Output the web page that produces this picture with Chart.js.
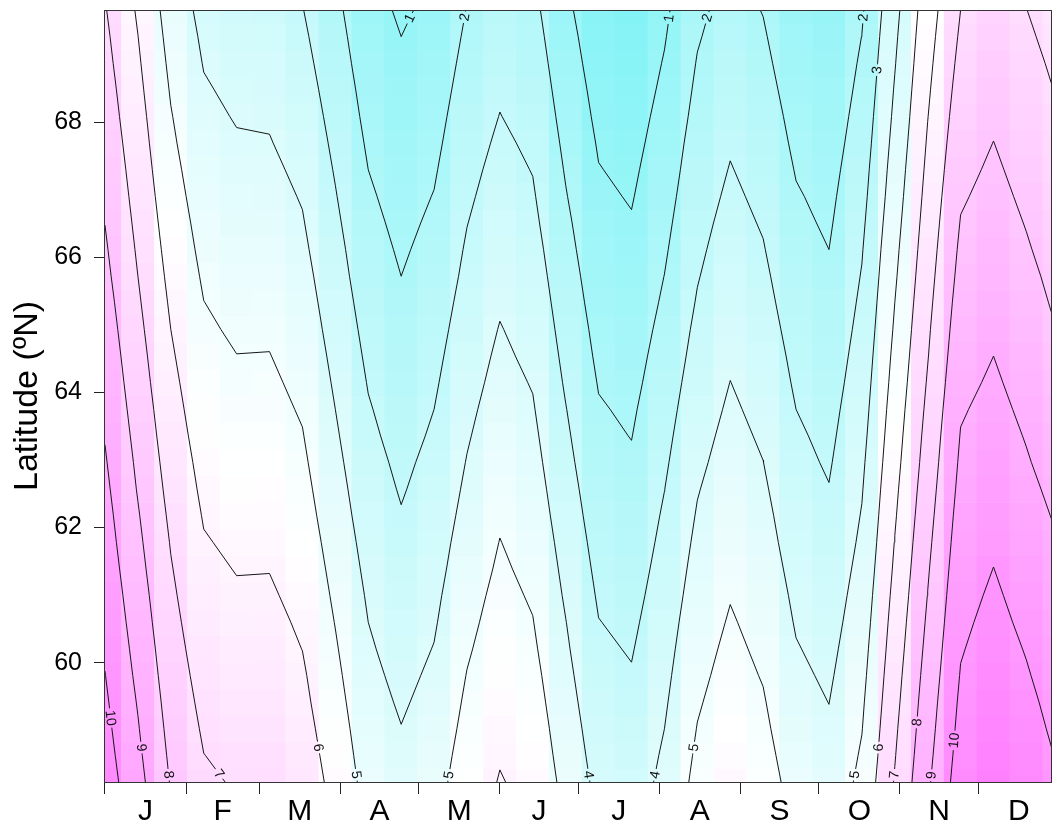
<!DOCTYPE html>
<html>
<head>
<meta charset="utf-8">
<script src="https://cdn.jsdelivr.net/npm/chart.js@4.4.1/dist/chart.umd.min.js"></script>
<style>
  html, body { margin: 0; padding: 0; background: #ffffff; }
  #wrap { width: 1052px; height: 827px; }
</style>
</head>
<body>
<div id="wrap"><canvas id="chart" width="1052" height="827"></canvas></div>
<script>
// ---- grid coordinates ----
// day of year of each grid column
const dayOfYear = [1, 13.59, 26.17, 38.76, 51.34, 63.93, 76.52, 89.10, 101.69, 114.28,
  126.86, 139.45, 152.03, 164.62, 177.21, 189.79, 202.38, 214.97, 227.55, 240.14,
  252.72, 265.31, 277.90, 290.48, 303.07, 315.66, 328.24, 340.83, 353.41, 366.0];

// latitude (°N) of each grid row, south to north
const latitude = [58.233, 58.627, 59.021, 59.415, 59.809, 60.203, 60.597, 60.991, 61.385, 61.779,
  62.173, 62.567, 62.961, 63.355, 63.749, 64.143, 64.537, 64.931, 65.325, 65.719,
  66.113, 66.507, 66.901, 67.295, 67.689, 68.083, 68.477, 68.871, 69.265, 69.659];

// field values: one list per day column, each running south to north
const gridValues = [
  [10.49,10.37,10.25,10.14,10.02,9.90,9.79,9.67,9.55,9.43,9.32,9.20,9.08,8.96,8.84,8.72,8.60,8.48,8.36,8.23,8.11,7.99,7.87,7.76,7.64,7.52,7.41,7.29,7.18,7.06],
  [9.31,9.18,9.06,8.94,8.81,8.69,8.56,8.44,8.31,8.19,8.07,7.94,7.83,7.71,7.59,7.47,7.36,7.24,7.12,7.00,6.89,6.78,6.67,6.56,6.45,6.34,6.23,6.12,6.01,5.89],
  [7.94,7.83,7.72,7.61,7.50,7.39,7.28,7.17,7.06,6.95,6.83,6.71,6.59,6.47,6.36,6.24,6.12,6.00,5.88,5.76,5.64,5.52,5.40,5.28,5.16,5.05,4.93,4.81,4.69,4.57],
  [7.13,7.01,6.89,6.77,6.65,6.53,6.41,6.29,6.18,6.06,5.94,5.82,5.71,5.59,5.47,5.36,5.24,5.12,5.01,4.89,4.77,4.66,4.54,4.43,4.31,4.19,4.08,3.96,3.85,3.73],
  [6.93,6.81,6.69,6.57,6.45,6.33,6.21,6.09,5.97,5.85,5.73,5.61,5.49,5.37,5.25,5.13,5.01,4.89,4.77,4.66,4.54,4.42,4.30,4.18,4.07,3.95,3.83,3.71,3.59,3.47],
  [6.94,6.82,6.70,6.58,6.46,6.34,6.22,6.10,5.98,5.86,5.74,5.62,5.50,5.38,5.26,5.14,5.02,4.90,4.78,4.65,4.53,4.41,4.29,4.17,4.04,3.92,3.80,3.68,3.56,3.43],
  [6.59,6.47,6.35,6.23,6.12,5.99,5.88,5.76,5.64,5.52,5.40,5.28,5.16,5.04,4.92,4.80,4.68,4.55,4.43,4.31,4.18,4.06,3.94,3.81,3.68,3.55,3.42,3.29,3.16,3.03],
  [5.70,5.58,5.46,5.33,5.21,5.09,4.97,4.85,4.73,4.61,4.48,4.36,4.24,4.12,4.00,3.88,3.76,3.64,3.52,3.40,3.29,3.17,3.05,2.93,2.81,2.69,2.57,2.45,2.34,2.22],
  [4.65,4.54,4.43,4.33,4.22,4.11,4.00,3.89,3.77,3.65,3.53,3.42,3.30,3.18,3.07,2.95,2.83,2.71,2.59,2.47,2.36,2.24,2.12,2.00,1.88,1.76,1.65,1.53,1.41,1.29],
  [4.26,4.14,4.02,3.90,3.78,3.65,3.53,3.41,3.29,3.17,3.05,2.93,2.82,2.70,2.58,2.47,2.35,2.23,2.12,2.00,1.89,1.78,1.67,1.56,1.44,1.33,1.22,1.11,1.00,0.89],
  [4.63,4.51,4.39,4.27,4.15,4.03,3.91,3.80,3.68,3.57,3.46,3.34,3.23,3.11,3.00,2.88,2.76,2.64,2.52,2.39,2.27,2.15,2.03,1.91,1.79,1.67,1.55,1.43,1.31,1.18],
  [5.52,5.40,5.27,5.15,5.03,4.90,4.78,4.66,4.53,4.41,4.28,4.16,4.04,3.92,3.80,3.68,3.57,3.45,3.33,3.21,3.10,2.98,2.86,2.74,2.62,2.51,2.39,2.27,2.15,2.03],
  [6.05,5.94,5.82,5.71,5.59,5.48,5.36,5.25,5.13,5.02,4.90,4.78,4.65,4.53,4.41,4.28,4.16,4.04,3.91,3.78,3.66,3.53,3.40,3.28,3.15,3.02,2.90,2.77,2.64,2.52],
  [5.76,5.64,5.52,5.40,5.28,5.15,5.03,4.91,4.79,4.67,4.55,4.43,4.31,4.19,4.07,3.95,3.82,3.70,3.58,3.46,3.34,3.21,3.09,2.97,2.85,2.72,2.60,2.48,2.36,2.24],
  [4.72,4.60,4.49,4.37,4.25,4.13,4.02,3.89,3.77,3.65,3.52,3.40,3.27,3.15,3.03,2.90,2.78,2.66,2.54,2.42,2.30,2.18,2.05,1.93,1.81,1.69,1.57,1.45,1.33,1.20],
  [3.74,3.62,3.50,3.38,3.26,3.14,3.02,2.90,2.78,2.66,2.54,2.42,2.30,2.18,2.07,1.95,1.83,1.72,1.60,1.49,1.37,1.26,1.15,1.03,0.92,0.80,0.69,0.57,0.46,0.34],
  [3.53,3.42,3.30,3.18,3.06,2.94,2.82,2.70,2.58,2.46,2.34,2.22,2.10,1.98,1.87,1.75,1.64,1.52,1.41,1.29,1.17,1.06,0.94,0.83,0.71,0.60,0.48,0.37,0.25,0.13],
  [4.23,4.12,4.00,3.89,3.78,3.67,3.56,3.44,3.33,3.22,3.11,2.99,2.87,2.75,2.63,2.50,2.38,2.26,2.13,2.01,1.89,1.77,1.65,1.53,1.42,1.30,1.18,1.06,0.94,0.83],
  [5.27,5.15,5.03,4.91,4.79,4.67,4.55,4.43,4.31,4.19,4.07,3.95,3.82,3.70,3.57,3.45,3.32,3.20,3.07,2.95,2.84,2.73,2.61,2.50,2.39,2.27,2.16,2.05,1.93,1.82],
  [5.79,5.67,5.55,5.43,5.31,5.20,5.08,4.96,4.84,4.72,4.60,4.49,4.37,4.25,4.13,4.01,3.89,3.77,3.65,3.53,3.40,3.28,3.16,3.04,2.92,2.79,2.67,2.55,2.43,2.31],
  [5.42,5.30,5.18,5.07,4.95,4.83,4.72,4.60,4.48,4.36,4.25,4.13,4.01,3.89,3.77,3.65,3.53,3.41,3.29,3.17,3.05,2.93,2.81,2.69,2.57,2.45,2.33,2.21,2.09,1.97],
  [4.65,4.53,4.41,4.29,4.17,4.05,3.93,3.82,3.70,3.58,3.47,3.35,3.23,3.12,3.00,2.88,2.77,2.65,2.53,2.42,2.30,2.18,2.07,1.95,1.83,1.72,1.60,1.48,1.37,1.25],
  [4.35,4.23,4.11,3.99,3.87,3.75,3.63,3.51,3.39,3.27,3.15,3.03,2.91,2.80,2.69,2.57,2.46,2.34,2.23,2.11,2.00,1.89,1.79,1.68,1.57,1.46,1.36,1.25,1.14,1.03],
  [5.23,5.10,4.97,4.86,4.74,4.63,4.51,4.40,4.28,4.16,4.05,3.94,3.83,3.71,3.60,3.49,3.38,3.27,3.16,3.05,2.94,2.82,2.70,2.59,2.47,2.36,2.24,2.13,2.01,1.89],
  [7.07,6.95,6.84,6.72,6.61,6.49,6.38,6.26,6.14,6.03,5.91,5.80,5.68,5.57,5.46,5.34,5.23,5.11,5.00,4.88,4.77,4.65,4.53,4.42,4.30,4.18,4.07,3.95,3.84,3.72],
  [8.85,8.73,8.61,8.50,8.38,8.26,8.14,8.02,7.91,7.79,7.67,7.55,7.43,7.32,7.20,7.08,6.96,6.86,6.75,6.64,6.53,6.42,6.31,6.20,6.09,5.98,5.87,5.76,5.65,5.54],
  [10.51,10.39,10.28,10.17,10.05,9.94,9.83,9.72,9.60,9.49,9.38,9.26,9.15,9.04,8.92,8.79,8.67,8.54,8.42,8.29,8.17,8.04,7.91,7.78,7.65,7.52,7.39,7.26,7.13,7.00],
  [10.97,10.85,10.73,10.61,10.49,10.37,10.25,10.13,10.01,9.88,9.75,9.63,9.50,9.37,9.25,9.12,9.00,8.87,8.75,8.62,8.50,8.38,8.25,8.13,8.01,7.88,7.76,7.63,7.51,7.39],
  [10.58,10.45,10.32,10.20,10.07,9.95,9.82,9.70,9.57,9.45,9.32,9.20,9.07,8.95,8.82,8.70,8.58,8.45,8.33,8.21,8.08,7.96,7.84,7.72,7.60,7.49,7.37,7.25,7.13,7.01],
  [10.02,9.91,9.79,9.68,9.57,9.46,9.35,9.24,9.12,9.01,8.88,8.75,8.61,8.48,8.35,8.22,8.08,7.96,7.84,7.73,7.61,7.50,7.38,7.27,7.15,7.04,6.92,6.81,6.69,6.58]
];

// contour levels drawn over the field
const contourLevels = [1, 2, 3, 4, 5, 6, 7, 8, 9, 10];

// axis ticks
const monthLetters = ['J', 'F', 'M', 'A', 'M', 'J', 'J', 'A', 'S', 'O', 'N', 'D'];
const monthStartDays = [1, 32, 60, 91, 121, 152, 182, 213, 244, 274, 305, 335, 366];
const latTicks = [60, 62, 64, 66, 68];

// ---- derived tables ----
const FONT = '"Liberation Sans", Arial, Helvetica, sans-serif';
Chart.defaults.font.family = FONT;
Chart.defaults.color = '#000';

const monthBoundaries = monthStartDays.slice(0, 12);
const monthMids = monthLetters.map((_, i) => (monthStartDays[i] + monthStartDays[i + 1]) / 2);

const cellLo = latitude.map((v, j) => j === 0 ? v - (latitude[1] - v) / 2 : (latitude[j - 1] + v) / 2);
const cellHi = latitude.map((v, j) => j === latitude.length - 1 ? v + (v - latitude[j - 1]) / 2 : (v + latitude[j + 1]) / 2);

const heatCells = [];
gridValues.forEach((col, k) => col.forEach((z, j) => {
  heatCells.push({ x: dayOfYear[k], y: [cellLo[j], cellHi[j]], z });
}));

const allZ = gridValues.flat();
const zLow = Math.min(...allZ);
const zHigh = Math.max(...allZ);

// cyan - white - magenta ramp
const LOW_END = [132, 243, 246];
const HIGH_END = [255, 128, 255];
function cmColour(z) {
  const t = Math.max(0, Math.min(1, (z - zLow) / (zHigh - zLow)));
  const end = t < 0.5 ? LOW_END : HIGH_END;
  const f = t < 0.5 ? (0.5 - t) * 2 : (t - 0.5) * 2;
  const c = end.map(v => Math.round(255 + (v - 255) * f));
  return `rgb(${c[0]},${c[1]},${c[2]})`;
}

// marching squares over the grid, chained into polylines
function traceContour(level) {
  const nx = dayOfYear.length, ny = latitude.length;
  const pts = new Map();
  const segs = [];
  const edge = (key, x0, y0, z0, x1, y1, z1) => {
    if (!pts.has(key)) {
      const t = (level - z0) / (z1 - z0);
      pts.set(key, { x: x0 + t * (x1 - x0), y: y0 + t * (y1 - y0) });
    }
    return key;
  };
  for (let i = 0; i < nx - 1; i++) {
    for (let j = 0; j < ny - 1; j++) {
      const z00 = gridValues[i][j], z10 = gridValues[i + 1][j];
      const z11 = gridValues[i + 1][j + 1], z01 = gridValues[i][j + 1];
      const x0 = dayOfYear[i], x1 = dayOfYear[i + 1], y0 = latitude[j], y1 = latitude[j + 1];
      const a00 = z00 >= level, a10 = z10 >= level, a11 = z11 >= level, a01 = z01 >= level;
      const c = [];
      if (a00 !== a10) c.push(edge(`h${i},${j}`, x0, y0, z00, x1, y0, z10));
      if (a10 !== a11) c.push(edge(`v${i + 1},${j}`, x1, y0, z10, x1, y1, z11));
      if (a01 !== a11) c.push(edge(`h${i},${j + 1}`, x0, y1, z01, x1, y1, z11));
      if (a00 !== a01) c.push(edge(`v${i},${j}`, x0, y0, z00, x0, y1, z01));
      if (c.length === 2) segs.push([c[0], c[1]]);
      else if (c.length === 4) {
        const centre = (z00 + z10 + z11 + z01) / 4 >= level;
        if (centre === a00) { segs.push([c[0], c[1]]); segs.push([c[2], c[3]]); }
        else { segs.push([c[0], c[3]]); segs.push([c[1], c[2]]); }
      }
    }
  }
  const adj = new Map();
  segs.forEach(([a, b], idx) => {
    if (!adj.has(a)) adj.set(a, []);
    if (!adj.has(b)) adj.set(b, []);
    adj.get(a).push(idx);
    adj.get(b).push(idx);
  });
  const used = new Array(segs.length).fill(false);
  const walk = (start) => {
    const keys = [start];
    let cur = start;
    for (;;) {
      const next = adj.get(cur).find(s => !used[s]);
      if (next === undefined) break;
      used[next] = true;
      const [a, b] = segs[next];
      cur = a === cur ? b : a;
      keys.push(cur);
    }
    return keys;
  };
  const lines = [];
  for (const [key, list] of adj) {
    if (list.length === 1 && !used[list[0]]) lines.push(walk(key));
  }
  segs.forEach((s, idx) => { if (!used[idx]) lines.push(walk(s[0])); });
  return lines.map(keys => keys.map(k => pts.get(k)));
}

const contourLines = {};
contourLevels.forEach(L => { contourLines[L] = traceContour(L); });

const contourDatasets = contourLevels.map(L => ({
  type: 'line',
  label: String(L),
  contourLevel: L,
  data: contourLines[L].flatMap(line => [...line, { x: NaN, y: NaN }]),
  borderColor: '#161616',
  borderWidth: 1,
  pointRadius: 0,
  tension: 0,
  spanGaps: false,
  clip: 0,
  order: 0
}));

// where each contour carries its inline label (day, latitude)
const labelSpots = [
  { level: 10, day: 2.9, lat: 59.18 }, { level: 9, day: 14.8, lat: 58.74 },
  { level: 8, day: 25.1, lat: 58.34 }, { level: 7, day: 44.2, lat: 58.34 },
  { level: 6, day: 82.1, lat: 58.74 }, { level: 5, day: 97.0, lat: 58.34 },
  { level: 5, day: 132.2, lat: 58.34 }, { level: 4, day: 185.7, lat: 58.34 },
  { level: 4, day: 211.3, lat: 58.34 }, { level: 5, day: 226.6, lat: 58.74 },
  { level: 5, day: 287.8, lat: 58.34 }, { level: 6, day: 297.4, lat: 58.74 },
  { level: 7, day: 302.4, lat: 58.34 }, { level: 8, day: 310.0, lat: 59.12 },
  { level: 9, day: 315.4, lat: 58.34 }, { level: 10, day: 325.3, lat: 58.85 },
  { level: 1, day: 116.9, lat: 69.55 }, { level: 2, day: 138.7, lat: 69.55 },
  { level: 1, day: 216.3, lat: 69.54 }, { level: 2, day: 231.6, lat: 69.54 },
  { level: 2, day: 290.5, lat: 69.55 }, { level: 3, day: 296.3, lat: 68.77 }
];
const LABEL_SIZE = 14;
const LABEL_FONT = `${LABEL_SIZE}px ${FONT}`;

const contourLabelPlugin = {
  id: 'contourLabels',
  beforeDatasetsDraw(chart) {
    const xs = chart.scales.x, ys = chart.scales.y, ctx = chart.ctx;
    ctx.save();
    ctx.font = LABEL_FONT;
    const boxes = [];
    labelSpots.forEach(spot => {
      const ax = xs.getPixelForValue(spot.day), ay = ys.getPixelForValue(spot.lat);
      let best = null;
      contourLines[spot.level].forEach(line => {
        for (let i = 0; i < line.length - 1; i++) {
          const px = xs.getPixelForValue(line[i].x), py = ys.getPixelForValue(line[i].y);
          const qx = xs.getPixelForValue(line[i + 1].x), qy = ys.getPixelForValue(line[i + 1].y);
          const dx = qx - px, dy = qy - py, len2 = dx * dx + dy * dy;
          if (len2 === 0) continue;
          const t = Math.max(0, Math.min(1, ((ax - px) * dx + (ay - py) * dy) / len2));
          const cx = px + t * dx, cy = py + t * dy;
          const d = (cx - ax) ** 2 + (cy - ay) ** 2;
          if (!best || d < best.d) best = { d, cx, cy, ang: Math.atan2(dy, dx) };
        }
      });
      if (!best) return;
      let a = best.ang;
      if (a > Math.PI / 2) a -= Math.PI;
      if (a <= -Math.PI / 2) a += Math.PI;
      const text = String(spot.level);
      const w = ctx.measureText(text).width;
      boxes.push({ level: spot.level, text, x: best.cx, y: best.cy, ang: a, w: w + 4, h: LABEL_SIZE });
    });
    ctx.restore();
    chart.$contourLabels = boxes;
  },
  beforeDatasetDraw(chart, args) {
    const ds = chart.data.datasets[args.index];
    if (ds.contourLevel === undefined) return;
    const ctx = chart.ctx;
    ctx.save();
    ctx.beginPath();
    ctx.rect(0, 0, chart.width, chart.height);
    (chart.$contourLabels || []).filter(b => b.level === ds.contourLevel).forEach(b => {
      const c = Math.cos(b.ang), s = Math.sin(b.ang), hw = b.w / 2, hh = b.h / 2;
      const corners = [[-hw, -hh], [hw, -hh], [hw, hh], [-hw, hh]]
        .map(([u, v]) => [b.x + u * c - v * s, b.y + u * s + v * c]);
      ctx.moveTo(corners[0][0], corners[0][1]);
      corners.slice(1).forEach(p => ctx.lineTo(p[0], p[1]));
      ctx.closePath();
    });
    ctx.clip('evenodd');
  },
  afterDatasetDraw(chart, args) {
    if (chart.data.datasets[args.index].contourLevel !== undefined) chart.ctx.restore();
  },
  afterDatasetsDraw(chart) {
    const ctx = chart.ctx;
    ctx.save();
    ctx.font = LABEL_FONT;
    ctx.fillStyle = '#111';
    ctx.textAlign = 'center';
    ctx.textBaseline = 'middle';
    (chart.$contourLabels || []).forEach(b => {
      ctx.save();
      ctx.translate(b.x, b.y);
      ctx.rotate(b.ang);
      ctx.fillText(b.text, 0, 0.5);
      ctx.restore();
    });
    // plot frame
    const { left, top, right, bottom } = chart.chartArea;
    ctx.strokeStyle = '#333';
    ctx.lineWidth = 1;
    ctx.strokeRect(left + 0.5, top + 0.5, right - left - 1, bottom - top);
    ctx.restore();
  }
};

const zeroPadding = scale => {
  scale.paddingTop = 0;
  scale.paddingBottom = 0;
  scale.paddingLeft = 0;
  scale.paddingRight = 0;
};

new Chart(document.getElementById('chart'), {
  type: 'bar',
  data: {
    datasets: [
      {
        type: 'bar',
        label: 'field',
        data: heatCells,
        backgroundColor: ctx => cmColour(ctx.raw ? ctx.raw.z : zLow),
        borderWidth: 0,
        barPercentage: 1,
        categoryPercentage: 1,
        grouped: false,
        clip: 0,
        order: 10
      },
      ...contourDatasets
    ]
  },
  options: {
    responsive: false,
    maintainAspectRatio: false,
    devicePixelRatio: 1,
    animation: false,
    events: [],
    layout: { padding: { top: 10, right: 0, bottom: 0, left: 0 } },
    plugins: { legend: { display: false }, tooltip: { enabled: false }, title: { display: false } },
    scales: {
      x: {
        type: 'linear',
        position: 'bottom',
        offset: false,
        min: 0.62,
        max: 363.2,
        border: { display: false },
        grid: {
          offset: false,
          drawOnChartArea: false,
          drawTicks: true,
          tickLength: 12,
          tickWidth: 1,
          tickColor: ctx => (ctx.tick && monthBoundaries.includes(ctx.tick.value)) ? '#222' : 'rgba(0,0,0,0)'
        },
        ticks: {
          autoSkip: false,
          maxRotation: 0,
          minRotation: 0,
          padding: 0,
          color: '#000',
          font: { size: 30 },
          callback: (value) => {
            const i = monthMids.indexOf(value);
            return i >= 0 ? monthLetters[i] : '';
          }
        },
        afterBuildTicks: scale => {
          scale.ticks = [...monthBoundaries, ...monthMids].sort((a, b) => a - b).map(v => ({ value: v }));
        },
        afterFit: scale => { scale.height = 45; zeroPadding(scale); }
      },
      y: {
        type: 'linear',
        offset: false,
        min: 58.233,
        max: 69.659,
        border: { display: false },
        grid: { drawOnChartArea: false, drawTicks: true, tickLength: 10, tickWidth: 1, tickColor: '#222' },
        ticks: { padding: 12, color: '#000', font: { size: 25 } },
        afterBuildTicks: scale => { scale.ticks = latTicks.map(v => ({ value: v })); },
        title: {
          display: true,
          text: 'Latitude (ºN)',
          color: '#000',
          font: { size: 34 },
          padding: { top: 7, bottom: 0 }
        },
        afterFit: scale => { scale.width = 104; zeroPadding(scale); }
      }
    }
  },
  plugins: [contourLabelPlugin]
});
</script>
</body>
</html>
